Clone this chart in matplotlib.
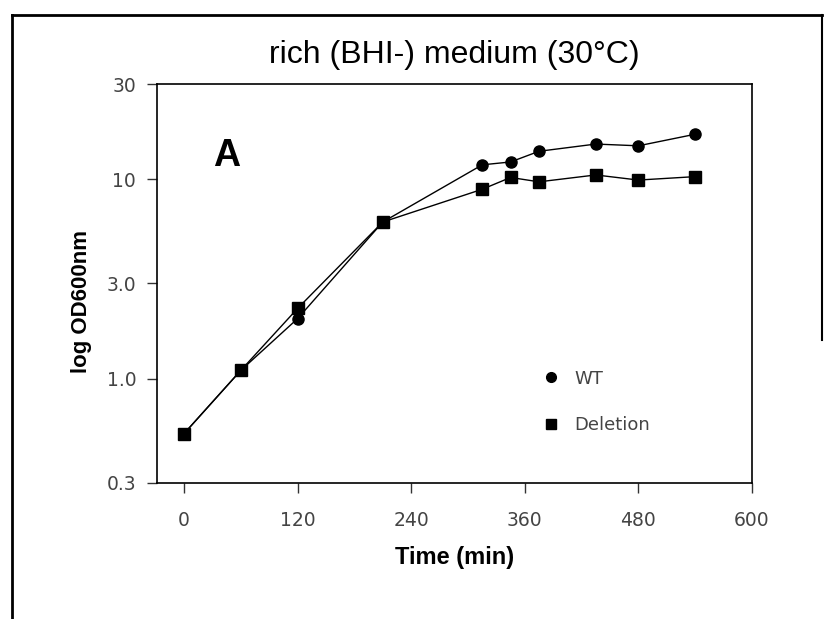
import matplotlib
matplotlib.use("Agg")
import matplotlib.pyplot as plt
from matplotlib.lines import Line2D

plt.rcParams['font.family'] = ['Liberation Sans', 'DejaVu Sans']

time_min = [0, 60, 120, 210, 315, 345, 375, 435, 480, 540]
wt = [0.53, 1.10, 2.0, 6.1, 11.8, 12.2, 13.8, 15.0, 14.7, 16.8]
deletion = [0.53, 1.10, 2.25, 6.1, 8.9, 10.2, 9.7, 10.5, 9.9, 10.3]

x_ticks = [0, 120, 240, 360, 480, 600]
y_ticks = [0.3, 1.0, 3.0, 10, 30]
y_tick_labels = ["0.3", "1.0", "3.0", "10", "30"]

title = "rich (BHI-) medium (30°C)"
panel = "A"

fig = plt.figure(figsize=(8.3, 6.19), dpi=100)
ax = fig.add_axes([157/830, 1-483/619, (752-157)/830, (483-84)/619])

ax.plot(time_min, wt, color='black', lw=1.0, marker='o', markersize=8,
        label='WT', zorder=3)
ax.plot(time_min, deletion, color='black', lw=1.0, marker='s', markersize=8,
        label='Deletion', zorder=3)

ax.set_yscale('log')
ax.set_xlim(-28.5, 600)
ax.set_ylim(0.3, 30)
ax.set_xticks(x_ticks)
ax.set_xticklabels([str(t) for t in x_ticks], fontfamily='DejaVu Sans',
                   fontsize=13.5, color='#444444')
ax.set_yticks(y_ticks)
ax.set_yticklabels(y_tick_labels, fontfamily='DejaVu Sans',
                   fontsize=13.5, color='#444444')
ax.minorticks_off()
ax.tick_params(axis='both', direction='out', length=7, width=1,
               color='#333333')
ax.tick_params(axis='x', pad=13)
ax.tick_params(axis='y', pad=8)
for s in ax.spines.values():
    s.set_linewidth(1.2)

ax.set_xlabel("Time (min)", fontsize=17, fontweight='bold',
              fontfamily='Liberation Sans', labelpad=12)
ax.set_ylabel("log OD600nm", fontsize=16, fontweight='bold',
              fontfamily='Liberation Sans')
ax.yaxis.set_label_coords(-0.11, 0.455)

ax.text(0.095, 0.82, panel, transform=ax.transAxes, fontsize=27,
        fontweight='bold', fontfamily='Liberation Sans', ha='left', va='center')

fig.text(454/830, 1-55/619, title, fontsize=23, fontfamily='Liberation Sans',
         ha='center', va='center')

handles = [Line2D([], [], color='black', marker='o', markersize=7, linestyle='none'),
           Line2D([], [], color='black', marker='s', markersize=7, linestyle='none')]
leg = ax.legend(handles, ['WT', 'Deletion'], loc='upper left',
                bbox_to_anchor=(0.622, 0.325), frameon=False,
                prop={'family': 'DejaVu Sans', 'size': 13},
                labelspacing=1.6, handlelength=0.8, handletextpad=0.9)
for t in leg.get_texts():
    t.set_color('#444444')

# outer frame lines
fig.add_artist(Line2D([12/830, 822/830], [1-15/619, 1-15/619], color='black', lw=2,
                      transform=fig.transFigure))
fig.add_artist(Line2D([12/830, 12/830], [1-15/619, 0], color='black', lw=2,
                      transform=fig.transFigure))
fig.add_artist(Line2D([822/830, 822/830], [1-15/619, 1-340/619], color='black', lw=1.5,
                      transform=fig.transFigure))

fig.savefig("out.png", dpi=100)
